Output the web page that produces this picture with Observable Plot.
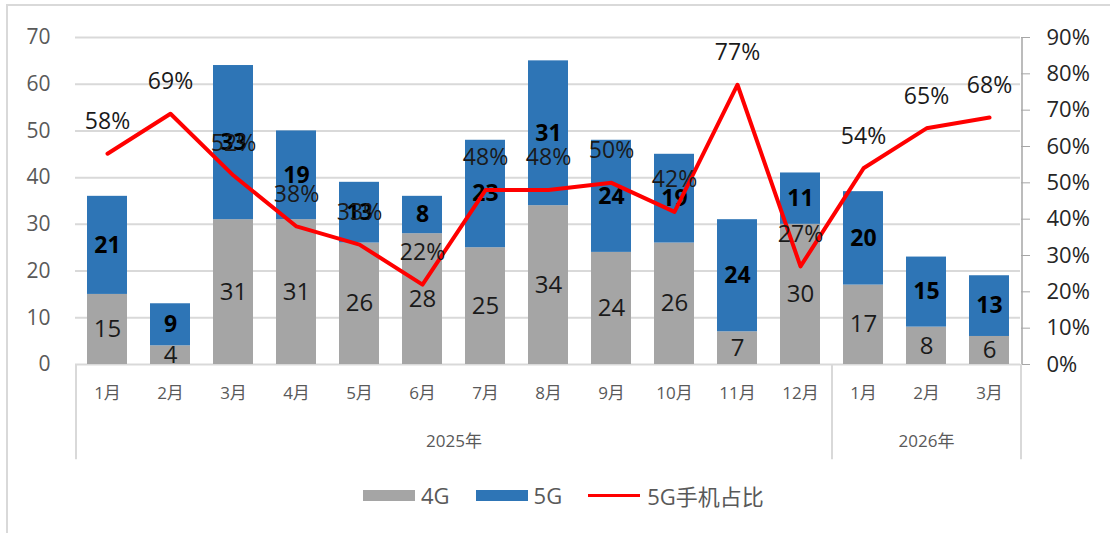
<!DOCTYPE html>
<html>
<head>
<meta charset="utf-8">
<script src="https://cdn.jsdelivr.net/npm/d3@7"></script>
<script src="https://cdn.jsdelivr.net/npm/@observablehq/plot@0.6"></script>
<style>
  html, body { margin: 0; padding: 0; background: #fff; }
  body { width: 1110px; height: 533px; overflow: hidden; position: relative;
         font-family: "Open Sans", "Noto Sans CJK SC", sans-serif; }
  #frame { position: absolute; left: 6px; top: 4px; width: 1200px; height: 600px;
           border: 2px solid #d9d9d9; box-sizing: border-box; pointer-events: none; }
  #chart { position: absolute; left: 0; top: 0; }
  #legend { position: absolute; left: 363px; top: 480px; display: flex; align-items: center;
            font-size: 22px; color: #595959; height: 30px; }
  .sw { width: 52px; height: 11px; margin-right: 6px; }
  .ln { width: 52px; height: 3px; background: #ff0000; margin-right: 7px; }
  .lab { margin-right: 26px; }
</style>
</head>
<body>
<div id="frame"></div>
<div id="chart"></div>
<div id="legend">
  <div class="sw" style="background:#a5a5a5"></div><span class="lab">4G</span>
  <div class="sw" style="background:#2e75b6"></div><span class="lab">5G</span>
  <div class="ln"></div><span>5G手机占比</span>
</div>
<script>
const years = ["2025", "2025", "2025", "2025", "2025", "2025", "2025", "2025", "2025", "2025", "2025", "2025", "2026", "2026", "2026"];
const months = ["1月", "2月", "3月", "4月", "5月", "6月", "7月", "8月", "9月", "10月", "11月", "12月", "1月", "2月", "3月"];
const g4 = [15, 4, 31, 31, 26, 28, 25, 34, 24, 26, 7, 30, 17, 8, 6];
const g5 = [21, 9, 33, 19, 13, 8, 23, 31, 24, 19, 24, 11, 20, 15, 13];
const share = [58, 69, 52, 38, 33, 22, 48, 48, 50, 42, 77, 27, 54, 65, 68];
const leftTicks = [0, 10, 20, 30, 40, 50, 60, 70];
const rightTicks = [0, 10, 20, 30, 40, 50, 60, 70, 80, 90];
const yearNames = ["2025年", "2026年"];

const keys = months.map((m, i) => years[i] + "-" + m);
const K = 70 / 90; // map % to left scale
const stacked = [];
keys.forEach((k, i) => {
  stacked.push({key: k, type: "4G", value: g4[i]});
  stacked.push({key: k, type: "5G", value: g5[i]});
});
const seg4 = keys.map((k, i) => ({key: k, y: g4[i] / 2, v: g4[i]}));
const seg5 = keys.map((k, i) => ({key: k, y: g4[i] + g5[i] / 2, v: g5[i]}));
const line = keys.map((k, i) => ({key: k, p: share[i] * K, v: share[i]}));

const font = '"Open Sans", "Noto Sans CJK SC", sans-serif';

const chart = Plot.plot({
  width: 1110,
  height: 470,
  marginLeft: 75,
  marginRight: 90,
  marginTop: 37,
  marginBottom: 106,
  style: {fontFamily: font, background: "transparent", overflow: "visible"},
  x: {domain: keys, paddingInner: 0.37, paddingOuter: 0.185, axis: null},
  y: {domain: [0, 70], range: [364, 37], axis: null},
  color: {domain: ["4G", "5G"], range: ["#a5a5a5", "#2e75b6"]},
  marks: [
    Plot.gridY(leftTicks, {stroke: "#d9d9d9", strokeOpacity: 1, strokeWidth: 2}),
    Plot.axisY({anchor: "left", ticks: leftTicks, tickSize: 0, tickPadding: 25, fontSize: 21, fill: "#595959", label: null}),
    Plot.axisY({anchor: "right", ticks: rightTicks.map(d => d * K), tickSize: 9, tickPadding: 17, fontSize: 22, fill: "#262626", stroke: "#a6a6a6", label: null, tickFormat: d => Math.round(d / K) + "%"}),
    Plot.barY(stacked, {x: "key", y: "value", fill: "type", order: ["4G", "5G"]}),
    Plot.text(seg4, {x: "key", y: "y", text: "v", fontSize: 24, fill: "#1a1a1a"}),
    Plot.text(seg5, {x: "key", y: "y", text: "v", fontSize: 23, fontWeight: "bold", fill: "#000"}),
    Plot.line(line, {x: "key", y: "p", stroke: "#ff0000", strokeWidth: 4, strokeLinejoin: "round"}),
    Plot.text(line, {x: "key", y: "p", text: d => d.v + "%", dy: -32, fontSize: 23, fill: "#1a1a1a"}),
    // category axis
    Plot.axisX({anchor: "bottom", tickSize: 0, tickPadding: 22, fontSize: 17, fill: "#595959", label: null, tickFormat: d => d.split("-")[1]}),
    Plot.text([yearNames[0]], {x: () => keys[6], y: () => 0, text: d => d, dx: -31.5, dy: 77, fontSize: 17, fill: "#595959"}),
    Plot.text([yearNames[1]], {x: () => keys[13], y: () => 0, text: d => d, dy: 77, fontSize: 17, fill: "#595959"}),
    Plot.ruleX([keys[0], keys[12]], {x: d => d, y1: 0, y2: -20.4, dx: -31.5, stroke: "#d9d9d9", strokeWidth: 2}),
    Plot.ruleX([keys[14]], {x: d => d, y1: 0, y2: -20.4, dx: 31.5, stroke: "#d9d9d9", strokeWidth: 2}),
    Plot.ruleX([keys[14]], {x: d => d, y1: 0, y2: 70, dx: 32.5, stroke: "#a6a6a6", strokeWidth: 1.5})
  ]
});
document.getElementById("chart").appendChild(chart);
</script>
</body>
</html>
